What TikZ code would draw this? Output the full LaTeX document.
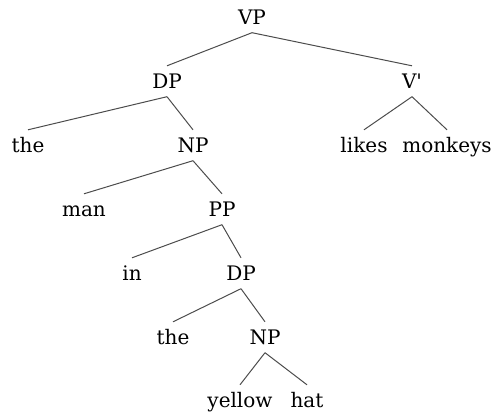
\documentclass[tikz,border=0pt]{standalone}
\usepackage{fontspec}
% plain family without TeX ligatures, so the prime stays a straight tick
\newfontfamily\treefont{DejaVu Serif}
\begin{document}
\begin{tikzpicture}[x=1pt,y=-1pt,
  cat/.style={anchor=base,inner xsep=0pt,inner ysep=8.5pt,text height=13.5pt,text depth=0pt,
    font=\treefont\fontsize{20}{22}\selectfont,text=black},
  branch/.style={draw=black!70,line width=1pt}]
\useasboundingbox (0,0) rectangle (495,415);
% categories and words, placed on their baselines
\node[cat] (vp)   at (252,24)  {VP};
\node[cat] (dp1)  at (167,88)  {DP};
\node[cat] (vbar) at (412,88)  {V'};
\node[cat] (the1) at (28,152)  {the};
\node[cat] (np1)  at (193,152) {NP};
\node[cat] (likes) at (364,152) {likes};
\node[cat] (monk) at (447,152) {monkeys};
\node[cat] (man)  at (84,216)  {man};
\node[cat] (pp)   at (222,216) {PP};
\node[cat] (in)   at (132,280) {in};
\node[cat] (dp2)  at (241,280) {DP};
\node[cat] (the2) at (173,344) {the};
\node[cat] (np2)  at (265,344) {NP};
\node[cat] (yel)  at (240,407) {yellow};
\node[cat] (hat)  at (307,407) {hat};
% branches
\draw[branch] (vp.south) -- (dp1.north);
\draw[branch] (vp.south) -- (vbar.north);
\draw[branch] (dp1.south) -- (the1.north);
\draw[branch] (dp1.south) -- (np1.north);
\draw[branch] (vbar.south) -- (likes.north);
\draw[branch] (vbar.south) -- (monk.north);
\draw[branch] (np1.south) -- (man.north);
\draw[branch] (np1.south) -- (pp.north);
\draw[branch] (pp.south) -- (in.north);
\draw[branch] (pp.south) -- (dp2.north);
\draw[branch] (dp2.south) -- (the2.north);
\draw[branch] (dp2.south) -- (np2.north);
\draw[branch] (np2.south) -- (yel.north);
\draw[branch] (np2.south) -- (hat.north);
\end{tikzpicture}
\end{document}
